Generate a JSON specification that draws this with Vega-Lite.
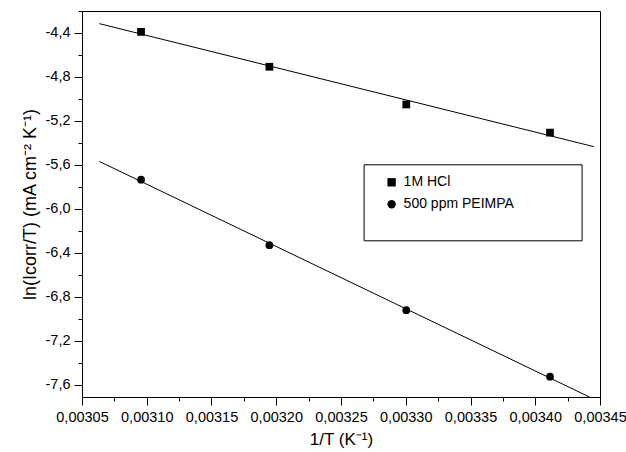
{
  "$schema": "https://vega.github.io/schema/vega-lite/v6.json",
  "width": 518,
  "height": 386,
  "autosize": {"type": "none"},
  "padding": {"left": 82, "top": 11, "right": 26, "bottom": 55},
  "background": "white",
  "config": {
    "font": "Liberation Sans",
    "view": {"stroke": "black", "strokeWidth": 1},
    "axis": {
      "grid": false,
      "domainColor": "black",
      "tickColor": "black",
      "labelColor": "black",
      "titleColor": "black",
      "labelFont": "Liberation Sans",
      "titleFont": "Liberation Sans",
      "labelFontSize": 14.5,
      "titleFontSize": 17,
      "titleFontWeight": "normal",
      "tickWidth": 1,
      "domainWidth": 1,
      "labelOverlap": false,
      "labelFlush": false,
      "labelBound": false
    }
  },
  "datasets": {
    "points": [
      {"invT": 0.0030956, "lnI": -4.39, "series": "1M HCl"},
      {"invT": 0.0031947, "lnI": -4.707, "series": "1M HCl"},
      {"invT": 0.0033004, "lnI": -5.05, "series": "1M HCl"},
      {"invT": 0.0034114, "lnI": -5.306, "series": "1M HCl"},
      {"invT": 0.0030956, "lnI": -5.734, "series": "500 ppm PEIMPA"},
      {"invT": 0.0031947, "lnI": -6.329, "series": "500 ppm PEIMPA"},
      {"invT": 0.0033004, "lnI": -6.921, "series": "500 ppm PEIMPA"},
      {"invT": 0.0034114, "lnI": -7.525, "series": "500 ppm PEIMPA"}
    ],
    "fits": [
      {"invT": 0.0030634, "lnI": -4.315, "series": "1M HCl"},
      {"invT": 0.0034454, "lnI": -5.434, "series": "1M HCl"},
      {"invT": 0.0030634, "lnI": -5.568, "series": "500 ppm PEIMPA"},
      {"invT": 0.0034454, "lnI": -7.73, "series": "500 ppm PEIMPA"}
    ]
  },
  "encoding": {
    "x": {
      "field": "invT",
      "type": "quantitative",
      "scale": {"domain": [0.00305, 0.00345], "nice": false, "zero": false},
      "axis": {
        "title": "1/T (K⁻¹)",
        "titlePadding": 8,
        "values": [0.00305, 0.003075, 0.0031, 0.003125, 0.00315, 0.003175, 0.0032, 0.003225, 0.00325, 0.003275, 0.0033, 0.003325, 0.00335, 0.003375, 0.0034, 0.003425, 0.00345],
        "labelExpr": "abs(datum.value*20000 - round(datum.value*20000)) < 0.001 ? replace(format(datum.value, '.5f'), '.', ',') : ''",
        "tickSize": {"condition": {"test": "abs(datum.value*20000 - round(datum.value*20000)) < 0.001", "value": 8}, "value": 4},
        "labelPadding": 5
      }
    },
    "y": {
      "field": "lnI",
      "type": "quantitative",
      "scale": {"domain": [-7.71, -4.2], "nice": false, "zero": false},
      "axis": {
        "title": "ln(Icorr/T) (mA cm⁻² K⁻¹)",
        "titleFontSize": 18,
        "titlePadding": 6,
        "values": [-4.2, -4.4, -4.6, -4.8, -5.0, -5.2, -5.4, -5.6, -5.8, -6.0, -6.2, -6.4, -6.6, -6.8, -7.0, -7.2, -7.4, -7.6],
        "labelExpr": "abs(datum.value/0.4 - round(datum.value/0.4)) < 0.001 ? replace(replace(format(datum.value, '.1f'), '.', ','), '\u2212', '-') : ''",
        "tickSize": {"condition": {"test": "abs(datum.value/0.4 - round(datum.value/0.4)) < 0.001", "value": 8}, "value": 4},
        "labelPadding": 4
      }
    }
  },
  "layer": [
    {
      "data": {"name": "fits"},
      "mark": {"type": "line", "color": "black", "strokeWidth": 1, "clip": true},
      "encoding": {"detail": {"field": "series", "type": "nominal"}}
    },
    {
      "data": {"name": "points"},
      "mark": {"type": "point", "filled": true, "color": "black", "opacity": 1, "size": 60},
      "encoding": {
        "shape": {
          "field": "series",
          "type": "nominal",
          "scale": {"domain": ["1M HCl", "500 ppm PEIMPA"], "range": ["square", "circle"]},
          "legend": {
            "orient": "none",
            "legendX": 281.6,
            "legendY": 153.3,
            "title": "______________________",
            "titleOrient": "bottom",
            "titleAnchor": "start",
            "titleColor": "white",
            "titleFontSize": 16,
            "titlePadding": 2,
            "titleLimit": 600,
            "strokeColor": "black",
            "fillColor": "white",
            "padding": 11,
            "rowPadding": 8,
            "symbolSize": 70,
            "symbolFillColor": "black",
            "symbolStrokeColor": "black",
            "symbolStrokeWidth": 0,
            "symbolOffset": 10,
            "labelOffset": 5,
            "labelFont": "Liberation Sans",
            "labelFontSize": 14,
            "labelColor": "black",
            "labelLimit": 400
          }
        }
      }
    }
  ]
}
